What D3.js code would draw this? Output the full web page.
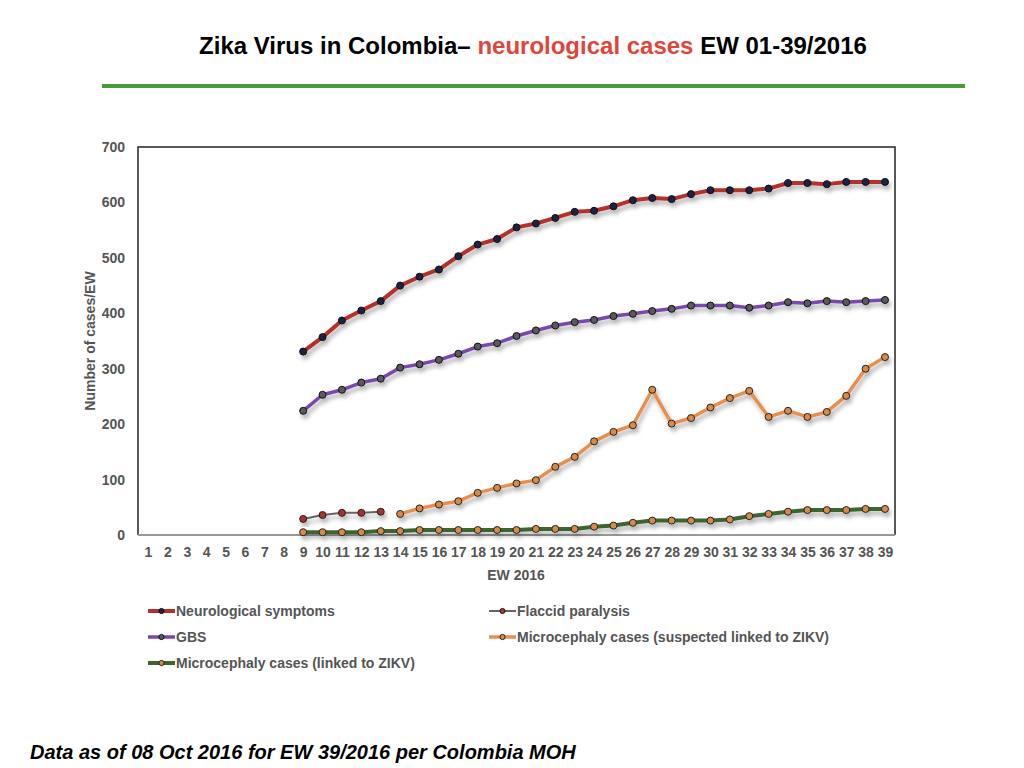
<!DOCTYPE html>
<html><head><meta charset="utf-8">
<script src="https://cdn.jsdelivr.net/npm/d3@7/dist/d3.min.js"></script>
<style>
body{margin:0;background:#fff;}
svg{display:block;font-family:"Liberation Sans",Arial,Helvetica,sans-serif;}
</style></head><body>
<svg id="c" width="1024" height="768"></svg>
<script>
const weeks = d3.range(1, 40);
const yTicks = [0,100,200,300,400,500,600,700];
const neuroWeeks = d3.range(9, 40);
const neuroValues = [331,357,387,405,422,450,466,479,503,524,534,555,562,572,583,585,593,604,608,606,615,622,622,622,625,635,635,633,637,637,637];
const gbsWeeks = d3.range(9, 40);
const gbsValues = [224,253,262,275,282,302,308,316,327,340,346,359,369,378,384,388,395,399,404,408,414,414,414,410,414,420,418,422,420,422,424];
const flaccidWeeks = [9,10,11,12,13];
const flaccidValues = [29,36,40,40,42];
const microSuspWeeks = d3.range(14, 40);
const microSuspValues = [38,48,55,61,76,85,93,99,123,141,169,186,198,262,201,211,230,247,260,213,224,213,222,251,300,321];
const microLinkedWeeks = d3.range(9, 40);
const microLinkedValues = [5,5,5,5,7,7,9,9,9,9,9,9,11,11,11,15,17,22,26,26,26,26,28,34,38,42,45,45,45,47,47];
const seriesNames = ["Neurological symptoms","GBS","Flaccid paralysis","Microcephaly cases (suspected linked to ZIKV)","Microcephaly cases (linked to ZIKV)"];

const series = [
  {name:seriesNames[0], w:neuroWeeks, v:neuroValues, line:"#b5302a", lw:4, dot:"#1c2445", dotStroke:"#111"},
  {name:seriesNames[1], w:gbsWeeks, v:gbsValues, line:"#7a48ad", lw:3.5, dot:"#5a5a5a", dotStroke:"#111"},
  {name:seriesNames[2], w:flaccidWeeks, v:flaccidValues, line:"#666", lw:2, dot:"#a8322c", dotStroke:"#222"},
  {name:seriesNames[3], w:microSuspWeeks, v:microSuspValues, line:"#e88f50", lw:3.5, dot:"#d98a48", dotStroke:"#222"},
  {name:seriesNames[4], w:microLinkedWeeks, v:microLinkedValues, line:"#3d6530", lw:4, dot:"#d98a48", dotStroke:"#222"}
];

const svg = d3.select("#c");
const defs = svg.append("defs");
const f = defs.append("filter").attr("id","sh").attr("x","-10%").attr("y","-10%").attr("width","130%").attr("height","140%");
f.append("feDropShadow").attr("dx",2).attr("dy",4).attr("stdDeviation",2).attr("flood-color","#000").attr("flood-opacity",0.3);

// title
const title = svg.append("text").attr("x",533).attr("y",54).attr("text-anchor","middle")
  .attr("font-size",24).attr("font-weight","bold");
title.append("tspan").attr("fill","#000").text("Zika Virus in Colombia– ");
title.append("tspan").attr("fill","#e0453a").text("neurological cases");
title.append("tspan").attr("fill","#000").text(" EW 01-39/2016");

svg.append("rect").attr("x",102).attr("y",84).attr("width",863).attr("height",4).attr("fill","#4a9a38");

const L=138, T=147, R=895, B=535;
const x = d3.scalePoint().domain(weeks).range([148, 885]);
const y = d3.scaleLinear().domain([0,700]).range([B, T]);

// frame
svg.append("path").attr("d",`M${L},${B}V${T}H${R}V${B}`).attr("fill","none").attr("stroke","#222").attr("stroke-width",1.5);
svg.append("line").attr("x1",L).attr("x2",R).attr("y1",B).attr("y2",B).attr("stroke","#999").attr("stroke-width",2);

// y axis
const ya = svg.append("g").attr("transform",`translate(${L},0)`)
  .call(d3.axisLeft(y).tickValues(yTicks).tickSize(0).tickPadding(13));
ya.select(".domain").remove();
ya.selectAll("text").attr("font-size",14).attr("font-weight","bold").attr("fill","#555").attr("font-family","'Liberation Sans',Arial,sans-serif");

// x axis
const xa = svg.append("g").attr("transform",`translate(0,${B})`)
  .call(d3.axisBottom(x).tickSize(0).tickPadding(12));
xa.select(".domain").remove();
xa.selectAll("text").attr("font-size",14).attr("font-weight","bold").attr("fill","#555").attr("font-family","'Liberation Sans',Arial,sans-serif");

svg.append("text").attr("x",516).attr("y",580).attr("text-anchor","middle").attr("font-size",14).attr("font-weight","bold").attr("fill","#555").text("EW 2016");
svg.append("text").attr("transform","translate(95,341) rotate(-90)").attr("text-anchor","middle").attr("font-size",14).attr("font-weight","bold").attr("fill","#555").text("Number of cases/EW");

const line = d3.line().x(d=>x(d[0])).y(d=>y(d[1]));
const order = [4,1,3,2,0];
order.forEach(i=>{
  const s = series[i];
  const pts = s.w.map((w,k)=>[w,s.v[k]]);
  const g = svg.append("g").attr("filter","url(#sh)");
  g.append("path").datum(pts).attr("d",line).attr("fill","none").attr("stroke",s.line).attr("stroke-width",s.lw).attr("stroke-linejoin","round");
  g.selectAll("circle").data(pts).join("circle").attr("cx",d=>x(d[0])).attr("cy",d=>y(d[1])).attr("r",3.5)
    .attr("fill",s.dot).attr("stroke",s.dotStroke).attr("stroke-width",1);
});

// legend
const legend = [
  {s:series[0], x:148, y:611},
  {s:series[1], x:148, y:637},
  {s:series[4], x:148, y:663},
  {s:series[2], x:489, y:611},
  {s:series[3], x:489, y:637}
];
legend.forEach(l=>{
  const g = svg.append("g");
  g.append("line").attr("x1",l.x).attr("x2",l.x+27).attr("y1",l.y).attr("y2",l.y).attr("stroke",l.s.line).attr("stroke-width",l.s.lw);
  g.append("circle").attr("cx",l.x+13.5).attr("cy",l.y).attr("r",2.6).attr("fill",l.s.dot).attr("stroke",l.s.dotStroke).attr("stroke-width",1);
  g.append("text").attr("x",l.x+28).attr("y",l.y+5).attr("font-size",14).attr("font-weight","bold").attr("fill","#555").text(l.s.name);
});

svg.append("text").attr("x",30).attr("y",759).attr("font-size",20).attr("font-weight","bold").attr("font-style","italic").attr("fill","#000").text("Data as of 08 Oct 2016 for EW 39/2016 per Colombia MOH");
</script>
</body></html>
